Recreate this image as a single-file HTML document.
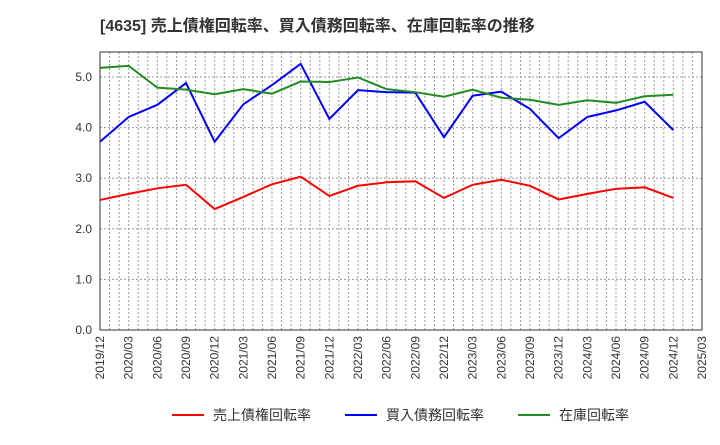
<!DOCTYPE html>
<html><head><meta charset="utf-8"><style>
body{margin:0;background:#fff;font-family:"Liberation Sans","Noto Sans CJK JP",sans-serif;}
</style></head><body>
<svg width="720" height="440" xmlns="http://www.w3.org/2000/svg" style="font-family:'Liberation Sans','Noto Sans CJK JP',sans-serif">
<text x="100" y="31" font-size="16" font-weight="bold" fill="#333">[4635]  売上債権回転率、買入債務回転率、在庫回転率の推移</text>
<g id="grid"></g><g id="axes"></g><g id="series"></g>
<rect x="100" y="52" width="602" height="278" fill="none" stroke="#333" stroke-width="1"/>
<g font-size="14" fill="#333">
<line x1="172" y1="415" x2="204" y2="415" stroke="#ff0000" stroke-width="2"/>
<text x="213" y="420">売上債権回転率</text>
<line x1="345" y1="415" x2="377" y2="415" stroke="#0000ff" stroke-width="2"/>
<text x="386" y="420">買入債務回転率</text>
<line x1="518" y1="415" x2="550" y2="415" stroke="#228b22" stroke-width="2"/>
<text x="559" y="420">在庫回転率</text>
</g>
</svg>
<script>
const categories=["2019/12","2020/03","2020/06","2020/09","2020/12","2021/03","2021/06","2021/09","2021/12","2022/03","2022/06","2022/09","2022/12","2023/03","2023/06","2023/09","2023/12","2024/03","2024/06","2024/09","2024/12","2025/03"];
const receivables=[2.57,2.69,2.80,2.87,2.39,2.63,2.88,3.03,2.65,2.85,2.92,2.94,2.61,2.87,2.97,2.85,2.58,2.69,2.79,2.82,2.61];
const payables=[3.72,4.21,4.45,4.88,3.72,4.46,4.84,5.26,4.17,4.74,4.70,4.69,3.81,4.63,4.71,4.37,3.79,4.21,4.34,4.51,3.95];
const inventory=[5.18,5.22,4.79,4.75,4.66,4.76,4.67,4.91,4.90,4.99,4.76,4.70,4.61,4.75,4.59,4.55,4.45,4.54,4.49,4.62,4.65];
const yTicks=[0,1,2,3,4,5];
const NS="http://www.w3.org/2000/svg";
const X0=100,X1=702,Y0=330,YTOP=52;
const step=(X1-X0)/(categories.length-1);
const x=i=>X0+i*step;
const y=v=>Y0-v*50.6;
function mk(t,a,p){const e=document.createElementNS(NS,t);for(const k in a)e.setAttribute(k,a[k]);p.appendChild(e);return e;}
const grid=document.getElementById('grid'),axes=document.getElementById('axes'),series=document.getElementById('series');
for(let m=0;m<=(categories.length-1)*3;m++){
 const l=mk('line',{x1:X0+m*step/3,x2:X0+m*step/3,y1:YTOP,y2:Y0,stroke:'#999','stroke-dasharray':'2,2','stroke-width':1},grid);
 
 
}
yTicks.forEach(v=>{
 const l=mk('line',{x1:X0,x2:X1,y1:y(v),y2:y(v),stroke:'#999','stroke-dasharray':'2,2','stroke-width':1},grid);
 
 
 const t=mk('text',{x:92,y:y(v)+4,'text-anchor':'end','font-size':12,fill:'#333'},axes);
 t.textContent=v.toFixed(1);
 
 
});
categories.forEach((c,i)=>{
 const t=mk('text',{x:0,y:0,'text-anchor':'end','font-size':12,fill:'#333',transform:`translate(${x(i)+4},336) rotate(-90)`},axes);
 t.textContent=c;
 
 
});
[[receivables,'#ff0000','line-receivables'],[payables,'#0000ff','line-payables'],[inventory,'#228b22','line-inventory']].forEach(([d,c,n])=>{
 const p=mk('polyline',{points:d.map((v,i)=>x(i)+','+y(v)).join(' '),fill:'none',stroke:c,'stroke-width':2},series);
 
 
});
</script>
</body></html>
